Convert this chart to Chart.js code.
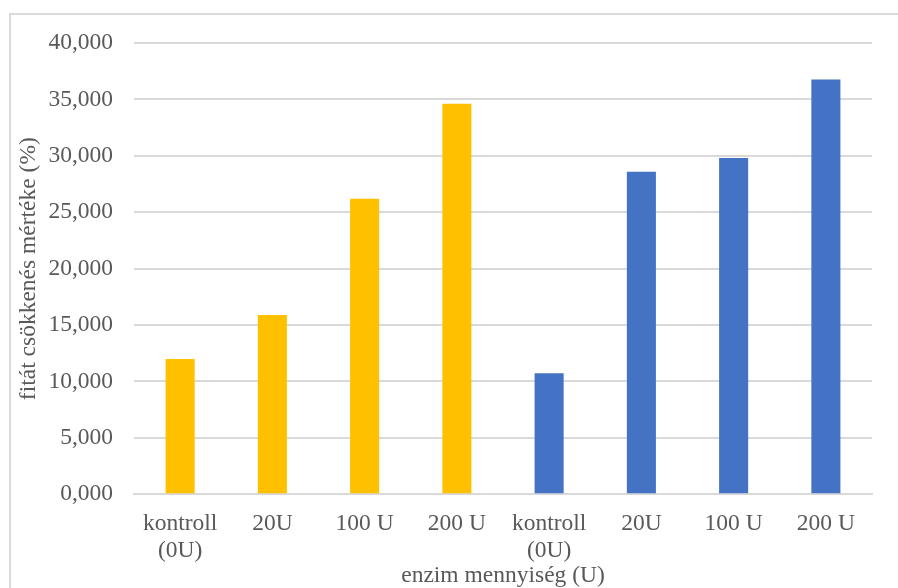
<!DOCTYPE html>
<html>
<head>
<meta charset="utf-8">
<script src="https://cdn.jsdelivr.net/npm/chart.js@4/dist/chart.umd.min.js"></script>
<style>
  html, body { margin: 0; padding: 0; background: #ffffff; }
  #wrap { position: relative; width: 898px; height: 588px; }
</style>
</head>
<body>
<div id="wrap"><canvas id="chart" width="898" height="588"></canvas></div>
<script>
// Category labels (two groups of four doses)
const categories = [
  ['kontroll', '(0U)'], '20U', '100 U', '200 U',
  ['kontroll', '(0U)'], '20U', '100 U', '200 U'
];
// Phytate reduction (%) for the first and second group
const groupA = [12.00, 15.90, 26.19, 34.62];
const groupB = [10.73, 28.59, 29.80, 36.77];
// Y-axis tick settings
const yMin = 0;
const yMax = 40;
const yStep = 5;

const colorA = '#FFC000';
const colorB = '#4472C4';
const textColor = '#595959';
const gridColor = '#d9d9d9';
const fontFamily = '"Liberation Serif", "Times New Roman", serif';

const nulls = n => Array(n).fill(null);
const dataA = groupA.concat(nulls(groupB.length));
const dataB = nulls(groupA.length).concat(groupB);

// Light outline around the chart frame
const framePlugin = {
  id: 'frame',
  beforeDraw(chart) {
    const ctx = chart.ctx;
    ctx.save();
    ctx.fillStyle = '#ffffff';
    ctx.fillRect(0, 0, chart.width, chart.height);
    ctx.strokeStyle = gridColor;
    ctx.lineWidth = 2;
    ctx.beginPath();
    ctx.moveTo(10, chart.height + 5);
    ctx.lineTo(10, 14);
    ctx.lineTo(chart.width + 5, 14);
    ctx.stroke();
    ctx.restore();
  }
};

new Chart(document.getElementById('chart'), {
  type: 'bar',
  data: {
    labels: categories,
    datasets: [
      { data: dataA, backgroundColor: colorA, borderWidth: 0 },
      { data: dataB, backgroundColor: colorB, borderWidth: 0 }
    ]
  },
  options: {
    responsive: false,
    animation: false,
    grouped: false,
    categoryPercentage: 1,
    barPercentage: 0.315,
    layout: { padding: { left: 10, top: 43, right: 26, bottom: 0 } },
    plugins: {
      legend: { display: false },
      tooltip: { enabled: false }
    },
    scales: {
      x: {
        grid: { display: false, drawTicks: false },
        border: { display: true, color: gridColor, width: 2 },
        ticks: {
          color: textColor,
          padding: 16,
          maxRotation: 0,
          autoSkip: false,
          font: { family: fontFamily, size: 23.5, lineHeight: 1.15 }
        },
        title: {
          display: true,
          text: 'enzim mennyiség (U)',
          color: textColor,
          padding: { top: 0, bottom: 0 },
          font: { family: fontFamily, size: 23.5, lineHeight: 1.0 }
        },
        afterFit(scale) { scale.height = 93.7; }
      },
      y: {
        min: yMin,
        max: yMax,
        ticks: {
          stepSize: yStep,
          color: textColor,
          padding: 21,
          font: { family: fontFamily, size: 23.5 },
          callback: v => v.toFixed(3).replace('.', ',')
        },
        grid: { color: gridColor, lineWidth: 2, drawTicks: false },
        border: { display: false },
        title: {
          display: true,
          text: 'fitát csökkenés mértéke (%)',
          color: textColor,
          padding: { top: 5, bottom: 0 },
          font: { family: fontFamily, size: 23.5, lineHeight: 1.2 }
        },
        afterFit(scale) { scale.width = 124; }
      }
    }
  },
  plugins: [framePlugin]
});
</script>
</body>
</html>
